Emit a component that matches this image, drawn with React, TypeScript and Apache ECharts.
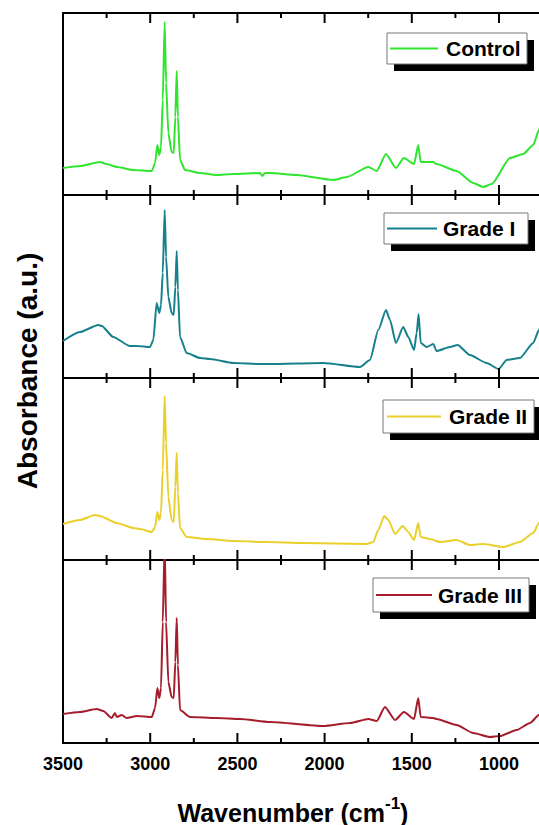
import React, { useEffect, useRef } from "react";
import * as echarts from "echarts";

const xMin = 500;
const xMax = 3500;
const xInterval = 500;
const majorTicks = [3500, 3000, 2500, 2000, 1500, 1000];
const minorTicks = [3250, 2750, 2250, 1750, 1250, 750];
const seriesNames = ["Control", "Grade I", "Grade II", "Grade III"];
const seriesColors = ["#2fe52f", "#16808c", "#ead02a", "#a51c2b"];

const control: [number, number][] = [
  [3500, 27], [3400, 29], [3288, 33], [3250, 31], [3190, 28], [3098, 25], [2991, 24], [2972, 32], [2959, 50], [2948, 40], [2938, 48],
  [2928, 95], [2917, 173], [2909, 112], [2896, 62], [2877, 43], [2865, 42], [2856, 78], [2848, 124], [2841, 78],
  [2829, 35], [2800, 25], [2714, 22], [2619, 20], [2524, 21], [2370, 22], [2357, 19], [2342, 22], [2313, 22],
  [2160, 20], [1950, 15], [1873, 18], [1749, 28], [1701, 24], [1648, 41], [1591, 27], [1545, 37], [1487, 31],
  [1463, 50], [1449, 33], [1415, 33], [1377, 33], [1358, 31], [1243, 24], [1148, 12], [1090, 8], [1042, 11],
  [937, 37], [861, 41], [804, 50], [771, 65], [755, 74],
];

const gradeI: [number, number][] = [
  [3500, 37], [3403, 46], [3298, 53], [3278, 52], [3212, 41], [3116, 32], [3077, 32], [3001, 31], [2982, 38],
  [2963, 75], [2948, 65], [2938, 73], [2928, 105], [2917, 168], [2909, 121], [2896, 81], [2877, 65], [2865, 63],
  [2856, 91], [2848, 127], [2841, 88], [2829, 41], [2791, 25], [2714, 20], [2657, 19], [2523, 15], [2370, 14],
  [2313, 14], [2007, 15], [1797, 11], [1740, 18], [1692, 48], [1648, 68], [1625, 58], [1591, 35], [1549, 51],
  [1520, 41], [1487, 28], [1472, 45], [1461, 64], [1449, 35], [1415, 31], [1377, 34], [1358, 27], [1281, 31],
  [1237, 33], [1167, 23], [1071, 15], [1002, 9], [956, 18], [880, 20], [804, 35], [771, 48], [755, 55],
];

const gradeII: [number, number][] = [
  [3500, 36], [3403, 40], [3317, 45], [3288, 44], [3192, 37], [3097, 32], [3058, 31], [2991, 28], [2972, 33],
  [2959, 48], [2948, 40], [2938, 47], [2928, 90], [2917, 164], [2909, 117], [2896, 63], [2877, 40], [2865, 38],
  [2856, 73], [2848, 107], [2841, 67], [2829, 32], [2791, 23], [2676, 21], [2523, 19], [2332, 18], [2122, 17],
  [1759, 16], [1721, 18], [1692, 30], [1658, 44], [1635, 40], [1596, 26], [1552, 34], [1520, 28], [1487, 20],
  [1463, 37], [1449, 23], [1396, 21], [1338, 18], [1243, 20], [1167, 15], [1090, 16], [975, 13], [880, 18],
  [804, 27], [771, 37], [755, 42],
];

const gradeIII: [number, number][] = [
  [3500, 29], [3403, 31], [3307, 34], [3269, 32], [3221, 25], [3202, 30], [3192, 26], [3163, 28], [3135, 25],
  [3077, 27], [2991, 26], [2972, 35], [2959, 55], [2948, 45], [2938, 55], [2928, 121], [2917, 200], [2909, 121],
  [2896, 61], [2877, 46], [2865, 45], [2856, 81], [2848, 125], [2841, 78], [2829, 33], [2772, 26], [2619, 25],
  [2485, 24], [2313, 21], [2007, 17], [1854, 20], [1749, 24], [1701, 22], [1654, 36], [1596, 23], [1545, 31],
  [1487, 24], [1463, 45], [1449, 26], [1377, 25], [1358, 24], [1243, 18], [1148, 10], [1052, 6], [994, 7],
  [899, 13], [822, 20], [771, 28], [755, 33],
];

const allData = [control, gradeI, gradeII, gradeIII];

const FONT = "'Liberation Sans', Arial, sans-serif";

export default function App() {
  const ref = useRef<HTMLDivElement>(null);

  useEffect(() => {
    if (!ref.current) return;
    const chart = echarts.init(ref.current, null, { renderer: "svg" });

    const gridLeft = 63;
    const pxPerUnit = 0.1744;
    const gridWidth = (xMax - xMin) * pxPerUnit;
    const gridTops = [13, 195, 378, 560];
    const gridHeights = [182, 183, 182, 183];
    const black = "#000";

    const grids: any[] = gridTops.map((t, i) => ({
      left: gridLeft,
      width: gridWidth,
      top: t,
      height: gridHeights[i],
    }));

    const xAxes: any[] = [];
    gridTops.forEach((_, i) => {
      ["bottom", "top"].forEach((pos) => {
        xAxes.push({
          gridIndex: i,
          type: "value",
          min: xMin,
          max: xMax,
          interval: xInterval,
          inverse: true,
          position: pos,
          splitLine: { show: false },
          axisLine: { show: true, onZero: false, lineStyle: { color: black, width: 2 } },
          axisTick: { show: false },
          minorTick: { show: false },
          axisLabel: {
            show: pos === "bottom" && i === 3,
            fontSize: 18,
            fontWeight: "bold",
            fontFamily: FONT,
            color: black,
            margin: 12,
            formatter: (v: number) => (v < 1000 ? "" : String(v)),
          },
        });
      });
    });

    const yAxes: any[] = grids.map((_, i) => ({
      gridIndex: i,
      type: "value",
      min: 0,
      max: gridHeights[i],
      axisLine: { show: true, lineStyle: { color: black, width: 2 } },
      axisTick: { show: false },
      axisLabel: { show: false },
      splitLine: { show: false },
    }));

    const lineSeries = allData.map((d, i) => ({
      name: seriesNames[i],
      type: "line",
      xAxisIndex: i * 2,
      yAxisIndex: i,
      data: d,
      showSymbol: false,
      symbol: "none",
      clip: true,
      smooth: 0.2,
      smoothMonotone: "x",
      lineStyle: { color: seriesColors[i], width: 2 },
      itemStyle: { color: seriesColors[i] },
    }));

    const legendBoxes = [
      [387, 33, 527, 64, 390, 438, 446],
      [384, 213, 528, 244, 387, 437, 443],
      [383, 400, 534, 433, 387, 441, 449],
      [373, 578, 529, 612, 376, 432, 438],
    ];

    const legendGraphics: any[] = [];
    legendBoxes.forEach((b, i) => {
      const [l, t, r, bt, ls, le, tl] = b;
      const cy = (t + bt) / 2;
      legendGraphics.push({
        type: "rect",
        shape: { x: l + 7, y: t + 7, width: r - l, height: bt - t },
        style: { fill: "#000" },
        z: 100,
      });
      legendGraphics.push({
        type: "rect",
        shape: { x: l, y: t, width: r - l, height: bt - t },
        style: { fill: "#fff", stroke: "#777", lineWidth: 1 },
        z: 101,
      });
      legendGraphics.push({
        type: "line",
        shape: { x1: ls, y1: cy, x2: le, y2: cy },
        style: { stroke: seriesColors[i], lineWidth: 2 },
        z: 102,
      });
      legendGraphics.push({
        type: "text",
        x: tl,
        y: cy,
        style: {
          text: seriesNames[i],
          fill: "#000",
          font: `bold 21px ${FONT}`,
          textAlign: "left",
          textVerticalAlign: "middle",
        },
        z: 102,
      });
    });

    const titleGraphics: any[] = [
      {
        type: "text",
        x: 27,
        y: 371,
        rotation: Math.PI / 2,
        style: {
          text: "Absorbance (a.u.)",
          fill: "#000",
          font: `bold 28px ${FONT}`,
          textAlign: "center",
          textVerticalAlign: "middle",
        },
      },
      {
        type: "text",
        x: 293,
        y: 810,
        style: {
          text: "{a|Wavenumber (cm}{b|-1}{a|)}",
          textAlign: "center",
          textVerticalAlign: "middle",
          rich: {
            a: { font: `bold 25px ${FONT}`, fill: "#000", lineHeight: 30, verticalAlign: "bottom" },
            b: { font: `bold 17px ${FONT}`, fill: "#000", lineHeight: 17, verticalAlign: "top" },
          },
        },
      },
    ];

    const baseGraphics = [...legendGraphics, ...titleGraphics];

    const option: any = {
      animation: false,
      backgroundColor: "#fff",
      grid: grids,
      xAxis: xAxes,
      yAxis: yAxes,
      series: lineSeries,
      graphic: baseGraphics,
    };

    chart.setOption(option);

    // tick marks placed through the axes' own scales
    const tickGraphics: any[] = [];
    const tickList = [...majorTicks.map((v) => [v, 10]), ...minorTicks.map((v) => [v, 5])];
    gridTops.forEach((_, i) => {
      tickList.forEach(([v, len]) => {
        const finder: any = { xAxisIndex: i * 2, yAxisIndex: i };
        const b = chart.convertToPixel(finder, [v, 0]) as any;
        const t = chart.convertToPixel(finder, [v, gridHeights[i]]) as any;
        if (!b || !t) return;
        const style = { stroke: black, lineWidth: 2 };
        tickGraphics.push({
          type: "line",
          shape: { x1: b[0], y1: b[1], x2: b[0], y2: b[1] - len },
          style,
          z: 50,
        });
        tickGraphics.push({
          type: "line",
          shape: { x1: t[0], y1: t[1], x2: t[0], y2: t[1] + len },
          style,
          z: 50,
        });
      });
    });

    chart.setOption({ graphic: [...baseGraphics, ...tickGraphics] });

    return () => chart.dispose();
  }, []);

  return (
    <div
      style={{
        position: "fixed",
        left: 0,
        top: 0,
        width: 539,
        height: 825,
        overflow: "hidden",
        background: "#fff",
      }}
    >
      <div ref={ref} style={{ width: 600, height: 825 }} />
    </div>
  );
}
